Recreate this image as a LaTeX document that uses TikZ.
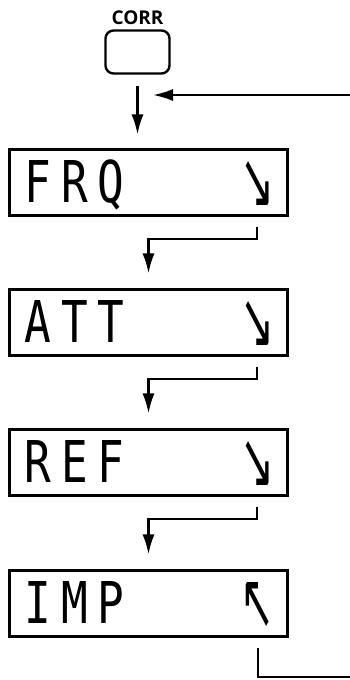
\documentclass[tikz,border=0pt]{standalone}
\usepackage{fontspec}
\usetikzlibrary{arrows.meta, positioning, calc}
\newfontfamily\lcdfont[FakeStretch=0.77, LetterSpace=17]{DejaVu Sans Mono}
\newfontfamily\lcdsym{DejaVu Sans}
\newfontfamily\keyfont{Open Sans}
\newcommand{\lcdarrow}[1]{\resizebox{34pt}{46pt}{\lcdsym #1}}
\tikzset{
  lcdbox/.style={draw, line width=2.2pt, minimum width=278pt, minimum height=66pt, inner sep=0pt},
  lcdtext/.style={anchor=base west, inner sep=0pt, font=\lcdfont\fontsize{57.6}{60}\selectfont},
  flow/.style={line width=2.2pt, -{Latex[length=20pt, width=12pt]}},
  link/.style={line width=2.2pt},
}
\begin{document}
\begin{tikzpicture}[x=1pt, y=-1pt]
  \useasboundingbox (0,0) rectangle (350,680);
  % key
  \node[draw, line width=2.4pt, rounded corners=8pt, minimum width=64pt, minimum height=43pt] (corr) at (137.5,52) {};
  \node[anchor=base, inner sep=0pt, font=\keyfont\bfseries\fontsize{19}{21}\selectfont] (corr-label) at ($(corr.north)+(0,-5)$) {CORR};
  % displays
  \foreach \id/\txt/\sym/\y in {frq/FRQ/↘/182.5, att/ATT/↘/322.5, ref/REF/↘/462.5, imp/IMP/↖/603.5} {
    \node[lcdbox] (\id) at (148.5,\y) {};
    \node[lcdtext] (\id-txt) at ($(\id.north west)+(16,54)$) {\txt};
    \node[inner sep=0pt] (\id-sym) at ($(\id.north east)+(-31,36)$) {\lcdarrow{\sym}};
  }
  % entry and return
  \coordinate (corr-out) at ($(corr.south)+(0,11)$);
  \coordinate (frq-in) at ($(frq.north)+(-11,-14)$);
  \draw[flow] (corr-out) -- (frq-in);
  \coordinate (return-end) at (350,95);
  \coordinate (return-tip) at (153,95);
  \draw[flow] (return-end) -- (return-tip);
  % steps
  \foreach \a/\b in {frq/att, att/ref, ref/imp} {
    \coordinate (\a-out) at ($(\a.south east)+(-32,10)$);
    \coordinate (\b-in) at ($(\b.north)+(0,-15)$);
    \draw[flow] (\a-out) -- ++(0,12) -| (\b-in);
  }
  \coordinate (imp-out) at ($(imp.south east)+(-31,10)$);
  \coordinate (exit-end) at (350,677);
  \draw[link] (imp-out) |- (exit-end);
\end{tikzpicture}
\end{document}
